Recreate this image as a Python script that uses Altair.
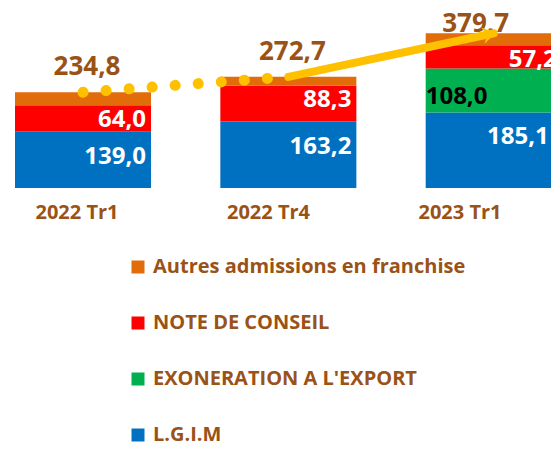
import altair as alt
import pandas as pd

periods = ["2022 Tr1", "2022 Tr4", "2023 Tr1"]
series = ["Autres admissions en franchise", "NOTE DE CONSEIL", "EXONERATION A L'EXPORT", "L.G.I.M"]
colors = ["#E36C0A", "#FF0000", "#00B050", "#0070C0"]
lgim = [139.0, 163.2, 185.1]
exon = [0.0, 0.0, 108.0]
note = [64.0, 88.3, 57.2]
autres = [31.8, 21.2, 29.4]
totals = [234.8, 272.7, 379.7]

BROWN = "#9A5217"
GOLD = "#FFC000"
FONT = "Open Sans"


def fr(v):
    return f"{v:.1f}".replace(".", ",")


stack_order = ["L.G.I.M", "EXONERATION A L'EXPORT", "NOTE DE CONSEIL", "Autres admissions en franchise"]
vals = {"L.G.I.M": lgim, "EXONERATION A L'EXPORT": exon, "NOTE DE CONSEIL": note,
        "Autres admissions en franchise": autres}
rows = []
for i, p in enumerate(periods):
    base = 0.0
    for s in stack_order:
        v = vals[s][i]
        rows.append(dict(period=p, series=s, value=v, y0=base, y1=base + v, label=fr(v)))
        base += v
df = pd.DataFrame(rows)
tot = pd.DataFrame(dict(period=periods, plab=periods, total=totals, label=[fr(t) for t in totals]))

xs = alt.Scale(type="band", domain=periods, range=[7, 553.7], paddingInner=0.3376, paddingOuter=0)
ys = alt.Scale(domain=[0, 441.6], range=[180, 0], nice=False, zero=False)


def X(bp=0.5):
    return alt.X("period:N", scale=xs, axis=None, bandPosition=bp)


def Y(f):
    return alt.Y(f, scale=ys, axis=None)


base = alt.Chart(df)
bars = base.transform_filter("datum.value > 0").mark_bar().encode(
    x=alt.X("period:N", scale=xs, axis=None),
    y=Y("y1:Q"), y2="y0:Q",
    color=alt.Color("series:N", scale=alt.Scale(domain=series, range=colors),
                    legend=alt.Legend(orient="none", legendX=120, legendY=249, direction="vertical",
                                      title=None, symbolType="square", symbolSize=169,
                                      symbolStrokeWidth=0, labelFont=FONT, labelFontSize=20,
                                      labelFontWeight="bold", labelColor=BROWN, rowPadding=36,
                                      labelOffset=5, padding=0, labelLimit=500)),
)

lab_common = dict(font=FONT, fontSize=24, fontWeight="bold", baseline="middle")
lgim_lab = base.transform_filter("datum.series == 'L.G.I.M' && datum.period != '2023 Tr1'").mark_text(
    align="right", dx=-5, dy=26, color="white", **lab_common).encode(x=X(1), y=Y("y1:Q"), text="label:N")
lgim_lab3 = base.transform_filter("datum.series == 'L.G.I.M' && datum.period == '2023 Tr1'").mark_text(
    align="right", dx=-13, dy=24, color="white", **lab_common).encode(x=X(1), y=Y("y1:Q"), text="label:N")
note_lab = base.transform_filter("datum.series == 'NOTE DE CONSEIL'").mark_text(
    align="right", dx=-5, dy=15, color="white", **lab_common).encode(x=X(1), y=Y("y1:Q"), text="label:N")
exon_lab = base.transform_filter("datum.series == \"EXONERATION A L'EXPORT\" && datum.value > 0").mark_text(
    align="left", dx=0, dy=28, color="black", **lab_common).encode(x=X(0), y=Y("y1:Q"), text="label:N")

tbase = alt.Chart(tot)
dotted = tbase.transform_filter("datum.period != '2023 Tr1'").mark_line(
    color=GOLD, strokeWidth=11, strokeDash=[0.1, 23], strokeCap="round").encode(x=X(), y=Y("total:Q"))
solid = tbase.transform_filter("datum.period != '2022 Tr1'").mark_line(
    color=GOLD, strokeWidth=8, strokeCap="round").encode(x=X(), y=Y("total:Q"))
head = tbase.transform_filter("datum.period == '2023 Tr1'").mark_point(
    shape="M 0.2 0 L -1 -0.75 L -0.6 0 L -1 0.75 Z", filled=True, fill=GOLD, size=500,
    angle=347.7, opacity=1, strokeWidth=0).encode(x=X(), y=Y("total:Q"))

tot_style = dict(font=FONT, fontSize=26, fontWeight="bold", color=BROWN, align="center", baseline="alphabetic")
tot_lab = tbase.transform_filter("datum.period != '2023 Tr1'").mark_text(dx=4, dy=-17, **tot_style).encode(
    x=X(), y=Y("total:Q"), text="label:N")
tot_lab3 = tbase.transform_filter("datum.period == '2023 Tr1'").mark_text(dx=-18, dy=-1, **tot_style).encode(
    x=X(), y=Y("total:Q"), text="label:N")

xlab = tbase.mark_text(font=FONT, fontSize=20, fontWeight="bold", color=BROWN,
                       align="center", baseline="middle").encode(
    x=alt.X("plab:N", scale=alt.Scale(type="point", domain=periods, range=[69, 452], padding=0), axis=None),
    y=alt.value(205), text="plab:N")

chart = alt.layer(bars, lgim_lab, lgim_lab3, note_lab, exon_lab, tot_lab, tot_lab3, dotted, solid, head,
                  xlab).resolve_scale(
    x="independent"
).properties(
    width=543, height=436, padding=0, autosize=alt.AutoSizeParams(type="none")
).configure_view(stroke=None)

chart.save("out.html", embed_options={"renderer": "svg", "actions": False})
